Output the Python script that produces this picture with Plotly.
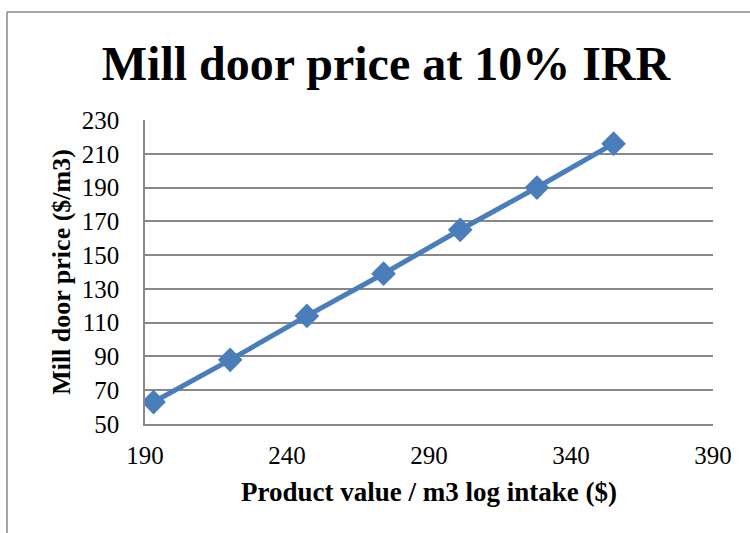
import plotly.graph_objects as go

product_value = [193, 220, 247, 274, 301, 328, 355]
mill_door_price = [63, 88, 114, 139, 165, 190, 216]

x_ticks = [190, 240, 290, 340, 390]
y_ticks = [50, 70, 90, 110, 130, 150, 170, 190, 210, 230]

W, H = 750, 533
L, R, T, B = 145, 37, 120, 109
pw, ph = W - L - R, H - T - B

def px_x(p):
    return (p - L) / pw

def px_y(p):
    return (H - B - p) / ph

fig = go.Figure()
fig.add_trace(go.Scatter(
    x=product_value, y=mill_door_price, mode="lines+markers",
    line=dict(color="#4A7EBB", width=5),
    marker=dict(symbol="diamond", size=19, color="#4A7EBB"),
    showlegend=False,
))

font = "Liberation Serif, Times New Roman, serif"
fig.update_layout(
    width=W, height=H,
    margin=dict(l=L, r=R, t=T, b=B),
    paper_bgcolor="white", plot_bgcolor="white",
    font=dict(family=font, color="black", size=25),
    title=dict(text="<b>Mill door price at 10% IRR</b>", x=386 / W, xanchor="center",
               y=1 - 63 / H, yanchor="middle", font=dict(size=48, family=font)),
    xaxis=dict(range=[190, 390], tickvals=x_ticks, showgrid=False, zeroline=False,
               showline=True, linecolor="#888888", linewidth=1.5,
               ticks="outside", ticklen=8, tickcolor="rgba(0,0,0,0)",
               tickfont=dict(size=25),
               title=dict(text="<b>Product value / m3 log intake ($)</b>", font=dict(size=27), standoff=14)),
    yaxis=dict(range=[50, 230], tickvals=y_ticks, showgrid=True, gridcolor="#888888", gridwidth=1.5,
               zeroline=False, showline=True, linecolor="#888888", linewidth=1.5,
               ticks="outside", ticklen=19, tickcolor="rgba(0,0,0,0)",
               tickfont=dict(size=25),
               title=dict(text="<b>Mill door price ($/m3)</b>", font=dict(size=26), standoff=4)),
    shapes=[
        dict(type="line", xref="paper", yref="paper", x0=px_x(7), x1=px_x(760), y0=px_y(12), y1=px_y(12),
             line=dict(color="#888888", width=1.5)),
        dict(type="line", xref="paper", yref="paper", x0=px_x(7), x1=px_x(7), y0=px_y(12), y1=px_y(545),
             line=dict(color="#888888", width=1.5)),
    ],
)

fig.write_html("out.html", config={"displayModeBar": False},
               post_script="document.body.style.margin='0';document.body.style.padding='0';")
